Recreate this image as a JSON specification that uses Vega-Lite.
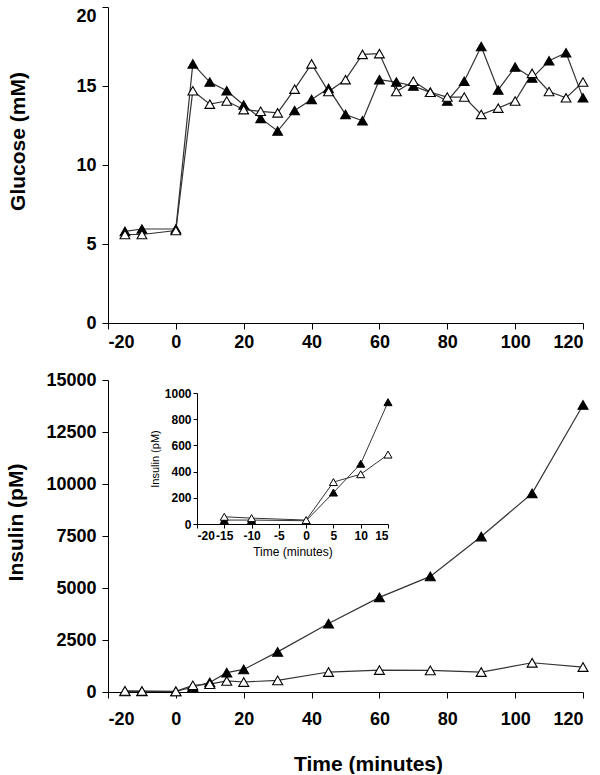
{
  "$schema": "https://vega.github.io/schema/vega-lite/v6.json",
  "background": "white",
  "padding": {"left": 5, "top": 6, "right": 10, "bottom": 0},
  "config": {
    "view": {"stroke": null},
    "axis": {
      "grid": false,
      "domainColor": "black",
      "tickColor": "black",
      "tickSize": 6,
      "labelFont": "Liberation Sans",
      "labelFontWeight": "bold",
      "labelFontSize": 18,
      "labelColor": "black",
      "titleFont": "Liberation Sans",
      "titleFontWeight": "bold",
      "titleFontSize": 21,
      "titleColor": "black",
      "labelExpr": "'' + datum.value"
    }
  },
  "datasets": {
    "glucose": [
      {"t": -15, "g": 5.8, "s": "filled"}, {"t": -10, "g": 5.95, "s": "filled"}, {"t": 0, "g": 5.95, "s": "filled"},
      {"t": 5, "g": 16.4, "s": "filled"}, {"t": 10, "g": 15.25, "s": "filled"}, {"t": 15, "g": 14.7, "s": "filled"},
      {"t": 20, "g": 13.8, "s": "filled"}, {"t": 25, "g": 12.95, "s": "filled"}, {"t": 30, "g": 12.15, "s": "filled"},
      {"t": 35, "g": 13.45, "s": "filled"}, {"t": 40, "g": 14.15, "s": "filled"}, {"t": 45, "g": 14.85, "s": "filled"},
      {"t": 50, "g": 13.2, "s": "filled"}, {"t": 55, "g": 12.8, "s": "filled"}, {"t": 60, "g": 15.4, "s": "filled"},
      {"t": 65, "g": 15.25, "s": "filled"}, {"t": 70, "g": 15.0, "s": "filled"}, {"t": 75, "g": 14.6, "s": "filled"},
      {"t": 80, "g": 14.05, "s": "filled"}, {"t": 85, "g": 15.3, "s": "filled"}, {"t": 90, "g": 17.5, "s": "filled"},
      {"t": 95, "g": 14.75, "s": "filled"}, {"t": 100, "g": 16.2, "s": "filled"}, {"t": 105, "g": 15.5, "s": "filled"},
      {"t": 110, "g": 16.6, "s": "filled"}, {"t": 115, "g": 17.1, "s": "filled"}, {"t": 120, "g": 14.25, "s": "filled"},
      {"t": -15, "g": 5.6, "s": "open"}, {"t": -10, "g": 5.6, "s": "open"}, {"t": 0, "g": 5.85, "s": "open"},
      {"t": 5, "g": 14.7, "s": "open"}, {"t": 10, "g": 13.85, "s": "open"}, {"t": 15, "g": 14.05, "s": "open"},
      {"t": 20, "g": 13.5, "s": "open"}, {"t": 25, "g": 13.4, "s": "open"}, {"t": 30, "g": 13.3, "s": "open"},
      {"t": 35, "g": 14.8, "s": "open"}, {"t": 40, "g": 16.4, "s": "open"}, {"t": 45, "g": 14.65, "s": "open"},
      {"t": 50, "g": 15.4, "s": "open"}, {"t": 55, "g": 17.0, "s": "open"}, {"t": 60, "g": 17.05, "s": "open"},
      {"t": 65, "g": 14.65, "s": "open"}, {"t": 70, "g": 15.3, "s": "open"}, {"t": 75, "g": 14.6, "s": "open"},
      {"t": 80, "g": 14.3, "s": "open"}, {"t": 85, "g": 14.3, "s": "open"}, {"t": 90, "g": 13.2, "s": "open"},
      {"t": 95, "g": 13.6, "s": "open"}, {"t": 100, "g": 14.05, "s": "open"}, {"t": 105, "g": 15.8, "s": "open"},
      {"t": 110, "g": 14.65, "s": "open"}, {"t": 115, "g": 14.25, "s": "open"}, {"t": 120, "g": 15.25, "s": "open"}
    ],
    "insulin": [
      {"t": -15, "i": 30, "s": "filled"}, {"t": -10, "i": 30, "s": "filled"}, {"t": 0, "i": 25, "s": "filled"},
      {"t": 5, "i": 240, "s": "filled"}, {"t": 10, "i": 460, "s": "filled"}, {"t": 15, "i": 930, "s": "filled"},
      {"t": 20, "i": 1085, "s": "filled"}, {"t": 30, "i": 1930, "s": "filled"}, {"t": 45, "i": 3290, "s": "filled"},
      {"t": 60, "i": 4550, "s": "filled"}, {"t": 75, "i": 5560, "s": "filled"}, {"t": 90, "i": 7475, "s": "filled"},
      {"t": 105, "i": 9550, "s": "filled"}, {"t": 120, "i": 13800, "s": "filled"},
      {"t": -15, "i": 55, "s": "open"}, {"t": -10, "i": 45, "s": "open"}, {"t": 0, "i": 30, "s": "open"},
      {"t": 5, "i": 320, "s": "open"}, {"t": 10, "i": 380, "s": "open"}, {"t": 15, "i": 530, "s": "open"},
      {"t": 20, "i": 480, "s": "open"}, {"t": 30, "i": 560, "s": "open"}, {"t": 45, "i": 960, "s": "open"},
      {"t": 60, "i": 1055, "s": "open"}, {"t": 75, "i": 1040, "s": "open"}, {"t": 90, "i": 960, "s": "open"},
      {"t": 105, "i": 1405, "s": "open"}, {"t": 120, "i": 1200, "s": "open"}
    ]
  },
  "spacing": 57,
  "bounds": "flush",
  "vconcat": [
    {
      "width": 475,
      "height": 316,
      "data": {"name": "glucose"},
      "layer": [
        {
          "mark": {"type": "line", "color": "#333333", "strokeWidth": 1.2},
          "encoding": {
            "x": {"field": "t", "type": "quantitative", "scale": {"domain": [-20, 120], "nice": false},
                  "axis": {"values": [-20, 0, 20, 40, 60, 80, 100, 120], "title": null, "labelPadding": 4}},
            "y": {"field": "g", "type": "quantitative", "scale": {"domain": [0, 20], "nice": false},
                  "axis": {"values": [0, 5, 10, 15, 20], "title": "Glucose (mM)", "titleX": -84, "titleY": 134, "titleBaseline": "alphabetic", "titleAngle": 270, "labelPadding": 6,
                           "labelBaseline": {"condition": {"test": "datum.value == 20", "value": "top"}, "value": "middle"}}},
            "detail": {"field": "s"}
          }
        },
        {
          "mark": {"type": "point", "shape": "triangle-up", "filled": true, "size": 95, "stroke": "black", "strokeWidth": 1.1, "opacity": 1},
          "encoding": {
            "x": {"field": "t", "type": "quantitative"},
            "y": {"field": "g", "type": "quantitative"},
            "fill": {"field": "s", "type": "nominal", "scale": {"domain": ["filled", "open"], "range": ["black", "white"]}, "legend": null}
          }
        }
      ]
    },
    {
      "width": 475,
      "height": 312,
      "data": {"name": "insulin"},
      "resolve": {"scale": {"x": "independent", "y": "independent"}, "axis": {"x": "independent", "y": "independent"}},
      "layer": [
        {
          "layer": [
            {
              "mark": {"type": "line", "color": "#333333", "strokeWidth": 1.2},
              "encoding": {
                "x": {"field": "t", "type": "quantitative", "scale": {"domain": [-20, 120], "nice": false},
                      "axis": {"orient": "bottom", "values": [-20, 0, 20, 40, 60, 80, 100, 120], "title": "Time (minutes)", "labelPadding": 12, "titleX": 260, "titleY": 78, "titleBaseline": "alphabetic"}},
                "y": {"field": "i", "type": "quantitative", "scale": {"domain": [0, 15000], "nice": false},
                      "axis": {"orient": "left", "values": [0, 2500, 5000, 7500, 10000, 12500, 15000], "title": "Insulin (pM)", "titleX": -86, "titleY": 142, "titleBaseline": "alphabetic", "titleAngle": 270, "labelPadding": 6}},
                "detail": {"field": "s"}
              }
            },
            {
              "mark": {"type": "point", "shape": "triangle-up", "filled": true, "size": 100, "stroke": "black", "strokeWidth": 1.1, "opacity": 1},
              "encoding": {
                "x": {"field": "t", "type": "quantitative"},
                "y": {"field": "i", "type": "quantitative"},
                "fill": {"field": "s", "type": "nominal", "scale": {"domain": ["filled", "open"], "range": ["black", "white"]}, "legend": null}
              }
            }
          ]
        },
        {
          "transform": [{"filter": "datum.t <= 15"}],
          "layer": [
            {
              "mark": {"type": "line", "color": "#333333", "strokeWidth": 1},
              "encoding": {
                "x": {"field": "t", "type": "quantitative", "scale": {"domain": [-20, 15], "range": [89, 280], "nice": false},
                      "axis": {"orient": "bottom", "values": [-20, -15, -10, -5, 0, 5, 10, 15], "offset": -168, "tickSize": 4, "labelFontSize": 12, "labelPadding": 2, "labelOverlap": false,
                               "title": "Time (minutes)", "titleFontSize": 12, "titleFontWeight": "normal", "titlePadding": 5}},
                "y": {"field": "i", "type": "quantitative", "scale": {"domain": [0, 1000], "range": [144, 13], "nice": false},
                      "axis": {"orient": "left", "values": [0, 200, 400, 600, 800, 1000], "offset": -89, "tickSize": 4, "labelFontSize": 12, "labelPadding": 2, "labelOverlap": false,
                               "title": "Insulin (pM)", "titleFontSize": 11, "titleFontWeight": "normal", "titlePadding": 4}},
                "detail": {"field": "s"}
              }
            },
            {
              "mark": {"type": "point", "shape": "triangle-up", "filled": true, "size": 65, "stroke": "black", "strokeWidth": 1, "opacity": 1},
              "encoding": {
                "x": {"field": "t", "type": "quantitative"},
                "y": {"field": "i", "type": "quantitative"},
                "fill": {"field": "s", "type": "nominal", "scale": {"domain": ["filled", "open"], "range": ["black", "white"]}, "legend": null}
              }
            }
          ]
        }
      ]
    }
  ]
}
